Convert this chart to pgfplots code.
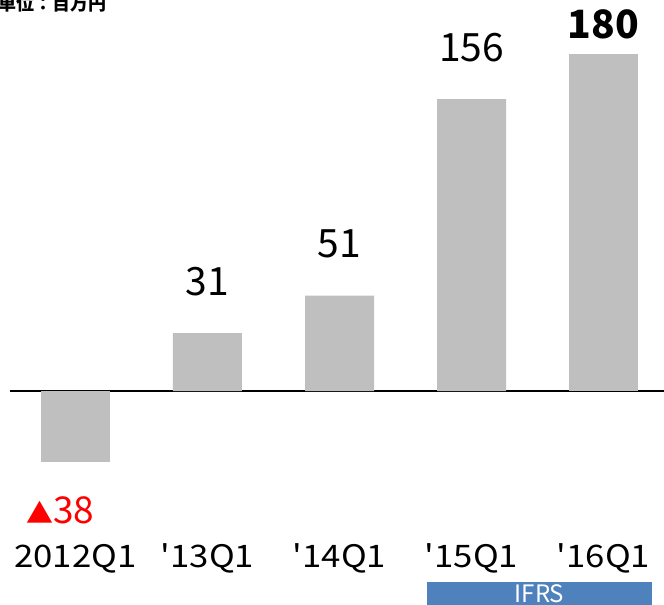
\documentclass[border=0pt]{standalone}
\usepackage{pgfplots}
\pgfplotsset{compat=1.18}
\usepackage{fontspec}
\newfontfamily\jp{Noto Sans CJK JP}
\newfontfamily\jpw{Noto Sans CJK JP}[FakeStretch=1.12]
\definecolor{bargray}{HTML}{BFBFBF}
\definecolor{ifrsblue}{HTML}{4F81BD}
\begin{document}
\begin{tikzpicture}[x=1bp,y=1bp]
\useasboundingbox (0,0) rectangle (664,605);
\clip (0,0) rectangle (664,605);
\begin{axis}[
  at={(10bp,0bp)}, anchor=south west,
  width=654bp, height=605bp, scale only axis,
  xmin=-0.496, xmax=4.458,
  ymin=-114.3, ymax=208.9,
  enlargelimits=false,
  axis line style={draw=none},
  ytick=\empty,
  xtick={0,1,2,3,4},
  xticklabels={2012Q1,{\char"27 13Q1},{\char"27 14Q1},{\char"27 15Q1},{\char"27 16Q1}},
  xticklabel style={font=\jpw\fontsize{31bp}{33bp}\selectfont, anchor=base, yshift=37bp, inner sep=0pt},
  major tick length=0pt,
  ybar, bar width=69bp,
  clip=false,
]
\draw[black, line width=1.6bp] (axis cs:-0.496,0) -- (axis cs:4.458,0);
\addplot[fill=bargray, draw=none, bar shift=0pt,
  point meta=explicit symbolic,
  nodes near coords,
  nodes near coords style={font=\jp\fontsize{39bp}{41bp}\selectfont, text=black, inner sep=0pt, anchor=south, yshift=37bp}]
  coordinates {(1,31) [31] (2,51) [51] (3,156) [156]};
\addplot[fill=bargray, draw=none, bar shift=0pt,
  point meta=explicit symbolic,
  nodes near coords,
  nodes near coords style={font=\jp\bfseries\fontsize{39bp}{41bp}\selectfont, text=black, inner sep=0pt, anchor=south, yshift=15bp}]
  coordinates {(4,180) [180]};
\addplot[fill=bargray, draw=none, bar shift=0pt,
  point meta=explicit symbolic,
  nodes near coords,
  nodes near coords style={font=\jp\fontsize{37bp}{39bp}\selectfont, text=red, inner sep=0pt, anchor=north, yshift=-34bp, xshift=-15bp}]
  coordinates {(0,-38) [{\fontsize{27bp}{29bp}\selectfont ▲}38]};
\end{axis}
\fill[ifrsblue] (427,0) rectangle (652,23);
\node[font=\jp\fontsize{24bp}{26bp}\selectfont, text=white, anchor=base, inner sep=0pt] at (539.5,2) {IFRS};
\node[font=\jp\bfseries\fontsize{18bp}{20bp}\selectfont, anchor=base west, inner sep=0pt] at (-2,594) {単位：百万円};
\end{tikzpicture}
\end{document}
